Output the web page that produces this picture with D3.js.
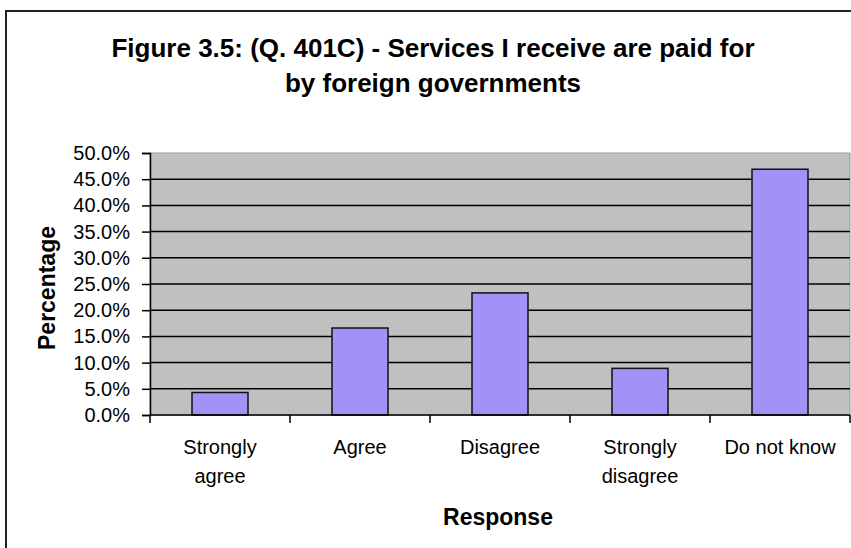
<!DOCTYPE html>
<html>
<head>
<meta charset="utf-8">
<script src="https://cdn.jsdelivr.net/npm/d3@7"></script>
<style>
body { margin: 0; background: #fff; }
text { font-family: "Liberation Sans", Arial, sans-serif; fill: #000; }
</style>
</head>
<body>
<script>
// values (percent)
var categories = [['Strongly', 'agree'], ['Agree'], ['Disagree'], ['Strongly', 'disagree'], ['Do not know']];
var values = [4.3, 16.6, 23.3, 8.9, 46.9];
var yTicks = [0, 5, 10, 15, 20, 25, 30, 35, 40, 45, 50];

var WIDTH = 851;
var HEIGHT = 548;
var plotLeft = 150, plotRight = 850, plotTop = 153, plotBottom = 415;

var svg = d3.select('body')
.append('svg')
.attr('width', WIDTH)
.attr('height', HEIGHT);

// outer frame
svg.append('rect')
.attr('x', 6).attr('y', 11)
.attr('width', 900).attr('height', 600)
.attr('fill', 'none')
.attr('stroke', '#222')
.attr('stroke-width', 2);

var x = d3.scaleBand()
.domain(d3.range(categories.length))
.range([plotLeft, plotRight])
.paddingInner(0.6)
.paddingOuter(0.3);

var y = d3.scaleLinear()
.domain([0, 50])
.range([plotBottom, plotTop]);

// plot background
svg.append('rect')
.attr('x', plotLeft).attr('y', plotTop)
.attr('width', plotRight - plotLeft).attr('height', plotBottom - plotTop)
.attr('fill', '#c0c0c0')
.attr('stroke', '#999')
.attr('stroke-width', 1);

// gridlines
svg.selectAll('line.grid')
.data(yTicks.slice(1, -1))
.enter()
.append('line')
.attr('class', 'grid')
.attr('x1', plotLeft).attr('x2', plotRight)
.attr('y1', function(d){return y(d);})
.attr('y2', function(d){return y(d);})
.attr('stroke', '#000')
.attr('stroke-width', 1.5);

// bars
svg.selectAll('rect.bar')
.data(values)
.enter()
.append('rect')
.attr('class', 'bar')
.attr('x', function(d, i){return x(i);})
.attr('width', x.bandwidth())
.attr('y', function(d){return y(d);})
.attr('height', function(d){return y(0) - y(d);})
.attr('fill', '#a391f8')
.attr('stroke', '#111')
.attr('stroke-width', 1.5);

// y axis
var yAxis = d3.axisLeft(y)
.tickValues(yTicks)
.tickSize(8)
.tickPadding(12)
.tickFormat(function(d){return d.toFixed(1) + '%';});

var gy = svg.append('g')
.attr('transform', 'translate(' + plotLeft + ',0)')
.call(yAxis);
gy.select('.domain').attr('stroke', '#000').attr('stroke-width', 1.5);
gy.selectAll('.tick line').attr('stroke', '#000').attr('stroke-width', 1.5);
gy.selectAll('.tick text')
.style('font-size', '20px')
.style('font-family', '"Liberation Sans", Arial, sans-serif');

// x axis: ticks on category boundaries
var boundaries = d3.range(categories.length + 1).map(function(i){return plotLeft + i * x.step();});
svg.append('line')
.attr('x1', plotLeft).attr('x2', plotRight)
.attr('y1', plotBottom).attr('y2', plotBottom)
.attr('stroke', '#000').attr('stroke-width', 1.5);
svg.selectAll('line.xtick')
.data(boundaries)
.enter()
.append('line')
.attr('class', 'xtick')
.attr('x1', function(d){return d;})
.attr('x2', function(d){return d;})
.attr('y1', plotBottom).attr('y2', plotBottom + 8)
.attr('stroke', '#000').attr('stroke-width', 1.5);

var labels = svg.selectAll('text.xlab')
.data(categories)
.enter()
.append('text')
.attr('class', 'xlab')
.attr('text-anchor', 'middle')
.attr('font-size', 20)
.attr('x', function(d, i){return x(i) + x.bandwidth() / 2;})
.attr('y', 454);
labels.selectAll('tspan')
.data(function(d){return d;})
.enter()
.append('tspan')
.attr('x', function(){return d3.select(this.parentNode).attr('x');})
.attr('dy', function(d, i){return i === 0 ? 0 : 29;})
.text(function(d){return d;});

// titles
svg.append('text')
.attr('x', 433).attr('y', 57)
.attr('text-anchor', 'middle')
.attr('font-size', 26).attr('font-weight', 'bold')
.text('Figure 3.5: (Q. 401C) - Services I receive are paid for');
svg.append('text')
.attr('x', 433).attr('y', 92)
.attr('text-anchor', 'middle')
.attr('font-size', 26).attr('font-weight', 'bold')
.text('by foreign governments');

svg.append('text')
.attr('x', 498).attr('y', 525)
.attr('text-anchor', 'middle')
.attr('font-size', 23).attr('font-weight', 'bold')
.text('Response');

svg.append('text')
.attr('transform', 'translate(55,288) rotate(-90)')
.attr('text-anchor', 'middle')
.attr('font-size', 23).attr('font-weight', 'bold')
.text('Percentage');
</script>
</body>
</html>
